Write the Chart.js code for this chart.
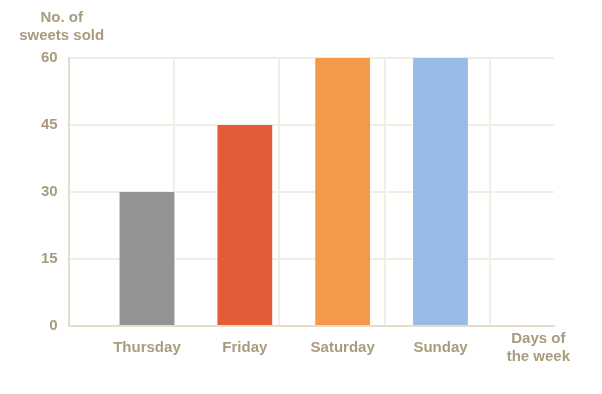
<!DOCTYPE html>
<html>
<head>
<meta charset="utf-8">
<script src="https://cdn.jsdelivr.net/npm/chart.js@4.4.0/dist/chart.umd.min.js"></script>
<style>
  html, body { margin: 0; padding: 0; background: #fff; }
  #wrap { width: 602px; height: 394px; }
</style>
</head>
<body>
<div id="wrap"><canvas id="myChart" width="602" height="394"></canvas></div>
<script>
// data
const days = ['Thursday', 'Friday', 'Saturday', 'Sunday'];
const sweetsSold = [30, 45, 60, 60];
const barColors = ['#939393', '#e35b37', '#f4994a', '#98bbe6'];
const yTicks = [0, 15, 30, 45, 60];
const xTitle = ['Days of', 'the week'];
const yTitle = ['No. of', 'sweets sold'];

const textColor = '#a99b7d';
const gridColor = '#f3eee5';
const axisColor = '#e6dcca';
const font = { family: 'Arial, "Liberation Sans", sans-serif', size: 15, weight: 'bold' };

// x positions 1..n, last slot holds the axis title
const xLabels = [...days, xTitle];
const points = days.map((d, i) => ({ x: i + 1, y: sweetsSold[i] }));

// axis title above the y axis
const yTitlePlugin = {
  id: 'yTitle',
  afterDraw(chart) {
    const { ctx, chartArea } = chart;
    ctx.save();
    ctx.font = 'bold 15px Arial, "Liberation Sans", sans-serif';
    ctx.fillStyle = textColor;
    ctx.textAlign = 'center';
    ctx.textBaseline = 'middle';
    yTitle.forEach((line, i) => {
      ctx.fillText(line, chartArea.left - 7, chartArea.top - 40 + i * 18);
    });
    ctx.restore();
  }
};

const ctx = document.getElementById('myChart').getContext('2d');
new Chart(ctx, {
  type: 'bar',
  data: {
    datasets: [{
      data: points,
      backgroundColor: barColors,
      borderWidth: 0,
      categoryPercentage: 1,
      barPercentage: 0.56,
      xAxisID: 'x',
      yAxisID: 'y'
    }]
  },
  options: {
    responsive: false,
    animation: false,
    layout: { padding: { top: 58, left: 30, right: 48, bottom: 14 } },
    plugins: {
      legend: { display: false },
      tooltip: { enabled: false }
    },
    scales: {
      x: {
        type: 'linear',
        position: 'bottom',
        offset: false,
        min: 0.2,
        max: 5.16,
        afterBuildTicks: (scale) => {
          scale.ticks = xLabels.map((_, i) => ({ value: i + 1 }));
        },
        ticks: {
          autoSkip: false,
          maxRotation: 0,
          padding: 5,
          crossAlign: 'center',
          color: textColor,
          font: font,
          callback: (value) => xLabels[Math.round(value) - 1]
        },
        grid: { display: false, offset: false },
        border: { display: true, color: axisColor, width: 2 }
      },
      xg: {
        type: 'linear',
        position: 'top',
        offset: false,
        min: 0,
        max: 4.606,
        afterBuildTicks: (scale) => {
          scale.ticks = scale.ticks.filter(t => Number.isInteger(t.value));
        },
        ticks: { display: false, stepSize: 1 },
        grid: { color: gridColor, lineWidth: 2, drawTicks: false, offset: false },
        border: { display: false }
      },
      y: {
        min: 0,
        max: 60,
        afterBuildTicks: (scale) => {
          scale.ticks = yTicks.map(v => ({ value: v }));
        },
        ticks: {
          padding: 11,
          color: textColor,
          font: font
        },
        grid: { color: gridColor, lineWidth: 2, drawTicks: false },
        border: { display: true, color: axisColor, width: 2 }
      }
    }
  },
  plugins: [yTitlePlugin]
});
</script>
</body>
</html>
